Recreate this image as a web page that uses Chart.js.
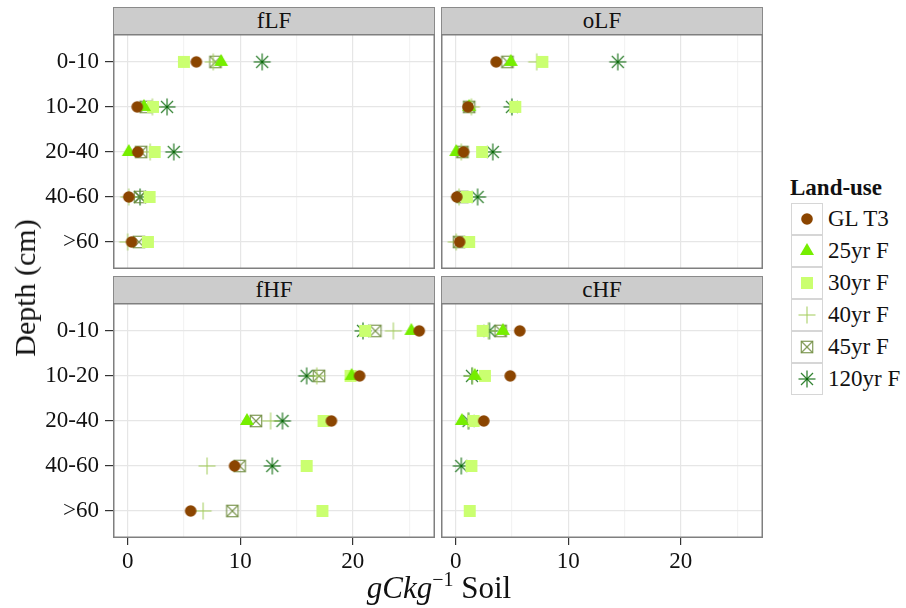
<!DOCTYPE html>
<html>
<head>
<meta charset="utf-8">
<script src="https://cdn.jsdelivr.net/npm/chart.js@4.4.1/dist/chart.umd.min.js"></script>
<style>
  body { margin: 0; background: #fff; font-family: 'Liberation Serif', serif; color: #111; }
  #wrap { position: relative; width: 906px; height: 608px; overflow: hidden; background: #fff; }
  #wrap canvas.panel { position: absolute; }
  .strip {
    position: absolute; box-sizing: border-box; width: 322px; height: 28px;
    background: #cccccc; border: 1px solid #8a8a8a;
    font-size: 23px; line-height: 25px; text-align: center;
  }
  #ytitle {
    position: absolute; left: 25px; top: 288px; font-size: 30px; white-space: nowrap;
    transform: translate(-50%, -50%) rotate(-90deg);
  }
  #xtitle {
    position: absolute; left: 439px; top: 573px; font-size: 31px; line-height: 30px;
    white-space: nowrap; transform: translateX(-50%);
  }
  #xtitle sup { font-size: 20px; vertical-align: 12px; line-height: 0; }
  #legend { position: absolute; left: 790px; top: 176px; }
  #legend .ltitle { font-size: 23px; line-height: 23px; font-weight: bold; margin-bottom: 4px; }
  #legend .row { position: relative; height: 32px; }
  #legend .key {
    position: absolute; left: 1px; top: 0; width: 32px; height: 32px; box-sizing: border-box;
    border: 1px solid #d6d6d6; background: #fff;
  }
  #legend .key canvas { position: absolute; left: 4px; top: 4px; }
  #legend .lab { position: absolute; left: 38px; top: 0; font-size: 23px; line-height: 32px; white-space: nowrap; }
</style>
</head>
<body>
<div id="wrap">
  <div class="strip" style="left:113px; top:7px;">fLF</div>
  <div class="strip" style="left:441px; top:7px;">oLF</div>
  <div class="strip" style="left:113px; top:276px;">fHF</div>
  <div class="strip" style="left:441px; top:276px;">cHF</div>
  <canvas class="panel" id="pfLF" width="435" height="235" style="left:0; top:34px;"></canvas>
  <canvas class="panel" id="poLF" width="322" height="235" style="left:441px; top:34px;"></canvas>
  <canvas class="panel" id="pfHF" width="435" height="270" style="left:0; top:303px;"></canvas>
  <canvas class="panel" id="pcHF" width="322" height="270" style="left:441px; top:303px;"></canvas>
  <div id="ytitle">Depth (cm)</div>
  <div id="xtitle"><i>gCkg</i><sup>−1</sup> Soil</div>
  <div id="legend"><div class="ltitle">Land-use</div></div>
</div>
<script>
const depths = ['0-10', '10-20', '20-40', '40-60', '>60'];
const landUses = ['GL T3', '25yr F', '30yr F', '40yr F', '45yr F', '120yr F'];
const xTicks = [0, 5, 10, 15, 20, 25];
const xLabelled = [0, 10, 20];

// one row per land-use (same order as landUses), one value per depth; null = not visible
const fLF = [
  [6.1, 0.85, 0.9, 0.1, 0.35],
  [8.3, 1.45, 0.1, null, null],
  [5.0, 2.25, 2.4, 1.95, 1.8],
  [7.6, 2.2, 2.0, 0.1, 0.0],
  [7.8, 1.6, 1.2, 1.1, 1.0],
  [11.95, 3.5, 4.1, 1.1, null]
];
const oLF = [
  [3.6, 1.1, 0.7, 0.1, 0.35],
  [4.9, 1.2, 0.05, null, null],
  [7.7, 5.3, 2.35, 1.0, 1.2],
  [7.2, 1.4, 0.5, 0.3, 0.05],
  [4.6, 1.2, 0.6, 0.6, 0.3],
  [14.4, 5.0, 3.3, 1.95, null]
];
const fHF = [
  [25.9, 20.6, 18.1, 9.5, 5.6],
  [25.2, 19.9, 10.6, null, null],
  [21.1, 19.8, 17.4, 15.9, 17.3],
  [23.6, 16.8, 12.7, 7.05, 6.7],
  [22.0, 17.0, 11.4, 9.95, 9.3],
  [20.9, 15.9, 13.75, 12.85, null]
];
const cHF = [
  [5.7, 4.85, 2.5, null, null],
  [4.2, 1.7, 0.55, null, null],
  [2.4, 2.6, 1.6, 1.4, 1.25],
  [2.9, 1.5, 1.1, null, null],
  [4.0, null, null, null, null],
  [3.0, 1.45, 1.15, 0.5, null]
];

const shapes = ['circle', 'triangle', 'square', 'plus', 'boxx', 'star'];
const colors = ['#8b4500', '#76ee00', '#caff70', '#a2cd5a', '#6e8b3d', '#006400'];

function line(g, x1, y1, x2, y2) {
  g.beginPath(); g.moveTo(x1, y1); g.lineTo(x2, y2); g.stroke();
}

// draws one ggplot-like marker on a small canvas, used as pointStyle
function marker(kind, color) {
  const c = document.createElement('canvas');
  c.width = 22; c.height = 22;
  const g = c.getContext('2d');
  g.translate(11, 11);
  g.fillStyle = color;
  g.strokeStyle = color;
  if (kind === 'circle') {
    g.beginPath(); g.arc(0, 0, 5.8, 0, Math.PI * 2); g.fill();
  } else if (kind === 'triangle') {
    g.beginPath(); g.moveTo(0, -8); g.lineTo(7, 4.1); g.lineTo(-7, 4.1); g.closePath(); g.fill();
  } else if (kind === 'square') {
    g.fillRect(-6, -6, 12, 12);
  } else if (kind === 'plus') {
    g.globalAlpha = 0.85; g.lineWidth = 1.2;
    line(g, -8.5, 0, 8.5, 0); line(g, 0, -8.5, 0, 8.5);
  } else if (kind === 'boxx') {
    g.globalAlpha = 0.8; g.lineWidth = 1.3;
    g.strokeRect(-5.7, -5.7, 11.4, 11.4);
    line(g, -5.7, -5.7, 5.7, 5.7); line(g, -5.7, 5.7, 5.7, -5.7);
  } else if (kind === 'star') {
    g.globalAlpha = 0.8; g.lineWidth = 1.3;
    line(g, -8.5, 0, 8.5, 0); line(g, 0, -8.5, 0, 8.5);
    line(g, -6, -6, 6, 6); line(g, -6, 6, 6, -6);
  }
  return c;
}

const panelBorder = {
  id: 'panelBorder',
  afterDatasetsDraw(chart) {
    const { ctx, chartArea: a } = chart;
    ctx.save();
    ctx.strokeStyle = '#7f7f7f';
    ctx.lineWidth = 1.5;
    ctx.strokeRect(a.left + 0.75, a.top + 0.75, a.width - 1.5, a.height - 1.5);
    ctx.restore();
  }
};

Chart.defaults.font.family = "'Liberation Serif', serif";
Chart.defaults.font.size = 23;
Chart.defaults.color = '#111';

function noPad(s) {
  s.paddingTop = 0; s.paddingBottom = 0; s.paddingLeft = 0; s.paddingRight = 0;
}

function panel(id, rows, showY, showX) {
  new Chart(document.getElementById(id), {
    type: 'scatter',
    data: {
      datasets: landUses.map((name, k) => ({
        label: name,
        data: rows[k].map((v, i) => (v === null ? null : { x: v, y: i })).filter(p => p),
        pointStyle: marker(shapes[k], colors[k]),
        pointRadius: 5
      }))
    },
    options: {
      responsive: false,
      animation: false,
      events: [],
      layout: { padding: 0, autoPadding: false },
      plugins: { legend: { display: false }, tooltip: { enabled: false } },
      scales: {
        x: {
          type: 'linear', min: -1.3, max: 27.3,
          afterBuildTicks: s => { s.ticks = xTicks.map(v => ({ value: v })); },
          afterFit: s => { s.height = showX ? 35 : 0; noPad(s); },
          border: { display: false },
          grid: {
            color: c => (xLabelled.includes(c.tick.value) ? '#e6e6e6' : '#f3f3f3'),
            tickColor: c => (xLabelled.includes(c.tick.value) ? '#333' : 'rgba(0,0,0,0)'),
            lineWidth: 1.2,
            drawTicks: showX,
            tickLength: 7
          },
          ticks: {
            display: showX, padding: 3, maxRotation: 0, autoSkip: false,
            callback: v => (xLabelled.includes(v) ? String(v) : '')
          }
        },
        y: {
          type: 'linear', min: -0.62, max: 4.6, reverse: true,
          afterBuildTicks: s => { s.ticks = depths.map((d, i) => ({ value: i })); },
          afterFit: s => { s.width = showY ? 113 : 0; noPad(s); },
          border: { display: false },
          grid: {
            color: '#e6e6e6',
            tickColor: '#333',
            lineWidth: 1.2,
            drawTicks: showY,
            tickLength: 8
          },
          ticks: {
            display: showY, padding: 6, autoSkip: false,
            callback: v => depths[v]
          }
        }
      }
    },
    plugins: [panelBorder]
  });
}

panel('pfLF', fLF, true, false);
panel('poLF', oLF, false, false);
panel('pfHF', fHF, true, true);
panel('pcHF', cHF, false, true);

// legend keys
const legend = document.getElementById('legend');
landUses.forEach((name, k) => {
  const row = document.createElement('div');
  row.className = 'row';
  const key = document.createElement('div');
  key.className = 'key';
  key.appendChild(marker(shapes[k], colors[k]));
  const lab = document.createElement('div');
  lab.className = 'lab';
  lab.textContent = name;
  row.appendChild(key);
  row.appendChild(lab);
  legend.appendChild(row);
});
</script>
</body>
</html>
